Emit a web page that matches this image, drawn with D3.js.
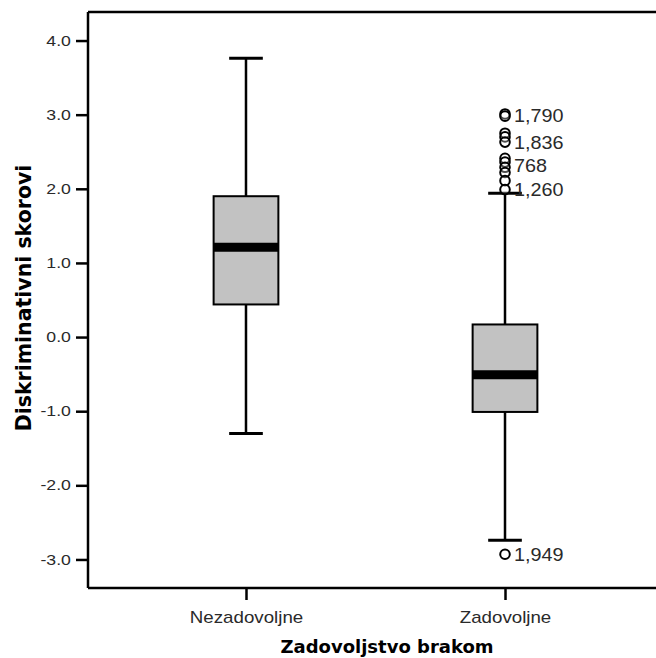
<!DOCTYPE html>
<html>
<head>
<meta charset="utf-8">
<script src="https://cdn.jsdelivr.net/npm/d3@7"></script>
<style>
  body { margin: 0; background: #fff; }
  svg { display: block; }
  .tick text { font-family: "Liberation Sans", Arial, sans-serif; fill: #2a2a2a; }
  .title { font-family: "DejaVu Sans", Verdana, sans-serif; font-weight: bold; fill: #000; }
</style>
</head>
<body>
<script>
'use strict';

// values
var groups = ["Nezadovoljne", "Zadovoljne"];
var whiskerLow = [-1.30, -2.74];
var q1 = [0.44, -1.01];
var median = [1.21, -0.51];
var q3 = [1.90, 0.17];
var whiskerHigh = [3.76, 1.94];

var outlierGroup = ["Zadovoljne", "Zadovoljne", "Zadovoljne", "Zadovoljne", "Zadovoljne", "Zadovoljne",
    "Zadovoljne", "Zadovoljne", "Zadovoljne", "Zadovoljne", "Zadovoljne", "Zadovoljne"];
var outlierValues = [3.01, 2.98, 2.75, 2.70, 2.63, 2.41, 2.36, 2.29, 2.22, 2.11, 1.99, -2.93];

var labelValues = [2.99, 2.63, 2.32, 1.99, -2.93];
var labelTexts = ["1,790", "1,836", "768", "1,260", "1,949"];

var yTicks = [-3, -2, -1, 0, 1, 2, 3, 4];

var W = 656, H = 658;
var plotLeft = 88, plotTop = 12, plotBottom = 588;

var svg = d3.select("body").append("svg")
    .attr("width", W)
    .attr("height", H);

var y = d3.scaleLinear().domain([-3.385, 4.385]).range([plotBottom, plotTop]);
var x = d3.scalePoint().domain(groups).range([plotLeft, 663]).padding(0.61);
var boxW = x.step() * 0.25;
var capW = x.step() * 0.065;

// SPSS prints a plain hyphen, not the unicode minus d3 uses
var fmt = function(d) { return d3.format(".1f")(d).replace("\u2212", "-"); };

// frame: top and bottom lines run off the right edge
svg.append("line")
    .attr("x1", plotLeft).attr("x2", W)
    .attr("y1", plotTop).attr("y2", plotTop)
    .attr("stroke", "#000").attr("stroke-width", 2.5);

var yAxis = svg.append("g")
    .attr("transform", "translate(" + plotLeft + ",0)")
    .call(d3.axisLeft(y).tickValues(yTicks).tickSize(12).tickPadding(5).tickFormat(fmt));
yAxis.select(".domain").attr("stroke-width", 2.5).attr("d", "M0," + plotTop + "V" + plotBottom);
yAxis.selectAll(".tick line").attr("stroke-width", 2.5);
yAxis.selectAll(".tick text")
    .style("font-size", "14.5px")
    .attr("transform", "scale(1.22,1)")
    .attr("x", -14);

var xAxis = svg.append("g")
    .attr("transform", "translate(0," + plotBottom + ")")
    .call(d3.axisBottom(x).tickSize(12).tickPadding(12));
xAxis.select(".domain").attr("stroke-width", 2.5).attr("d", "M" + plotLeft + ",0H" + W);
xAxis.selectAll(".tick line").attr("stroke-width", 2.5);
xAxis.selectAll(".tick text")
    .style("font-size", "16px")
    .attr("transform", "scale(1.17,1)");

// boxes
var box = svg.selectAll("g.box")
    .data(groups)
    .enter()
    .append("g")
    .attr("class", "box");

box.append("line")
    .attr("x1", function(d) { return x(d); })
    .attr("x2", function(d) { return x(d); })
    .attr("y1", function(d, i) { return y(whiskerHigh[i]); })
    .attr("y2", function(d, i) { return y(whiskerLow[i]); })
    .attr("stroke", "#000").attr("stroke-width", 2.5);

box.append("line")
    .attr("x1", function(d) { return x(d) - capW; })
    .attr("x2", function(d) { return x(d) + capW; })
    .attr("y1", function(d, i) { return y(whiskerHigh[i]); })
    .attr("y2", function(d, i) { return y(whiskerHigh[i]); })
    .attr("stroke", "#000").attr("stroke-width", 3);

box.append("line")
    .attr("x1", function(d) { return x(d) - capW; })
    .attr("x2", function(d) { return x(d) + capW; })
    .attr("y1", function(d, i) { return y(whiskerLow[i]); })
    .attr("y2", function(d, i) { return y(whiskerLow[i]); })
    .attr("stroke", "#000").attr("stroke-width", 3);

box.append("rect")
    .attr("x", function(d) { return x(d) - boxW / 2; })
    .attr("width", boxW)
    .attr("y", function(d, i) { return y(q3[i]); })
    .attr("height", function(d, i) { return y(q1[i]) - y(q3[i]); })
    .attr("fill", "#c2c2c2")
    .attr("stroke", "#000").attr("stroke-width", 2);

box.append("line")
    .attr("x1", function(d) { return x(d) - boxW / 2; })
    .attr("x2", function(d) { return x(d) + boxW / 2; })
    .attr("y1", function(d, i) { return y(median[i]); })
    .attr("y2", function(d, i) { return y(median[i]); })
    .attr("stroke", "#000").attr("stroke-width", 9);

// outliers
svg.selectAll("circle.outlier")
    .data(outlierValues)
    .enter()
    .append("circle")
    .attr("class", "outlier")
    .attr("cx", function(d, i) { return x(outlierGroup[i]); })
    .attr("cy", function(d) { return y(d); })
    .attr("r", 4.8)
    .attr("fill", "#fff")
    .attr("fill-opacity", 0.3)
    .attr("stroke", "#000")
    .attr("stroke-width", 2);

svg.selectAll("text.olabel")
    .data(labelValues)
    .enter()
    .append("text")
    .attr("class", "olabel")
    .attr("transform", function(d) {
        return "translate(" + (x("Zadovoljne") + 9) + "," + (y(d) + 6.5) + ") scale(1.1,1)";
    })
    .style("font-family", "Liberation Sans, Arial, sans-serif")
    .style("font-size", "18px")
    .style("fill", "#2a2a2a")
    .text(function(d, i) { return labelTexts[i]; });

// titles
svg.append("text")
    .attr("class", "title")
    .attr("transform", "translate(31," + ((plotTop + plotBottom) / 2 - 2) + ") rotate(-90)")
    .attr("text-anchor", "middle")
    .style("font-size", "20.5px")
    .text("Diskriminativni skorovi");

svg.append("text")
    .attr("class", "title")
    .attr("x", 387)
    .attr("y", 653)
    .attr("text-anchor", "middle")
    .style("font-size", "18px")
    .text("Zadovoljstvo brakom");
</script>
</body>
</html>
